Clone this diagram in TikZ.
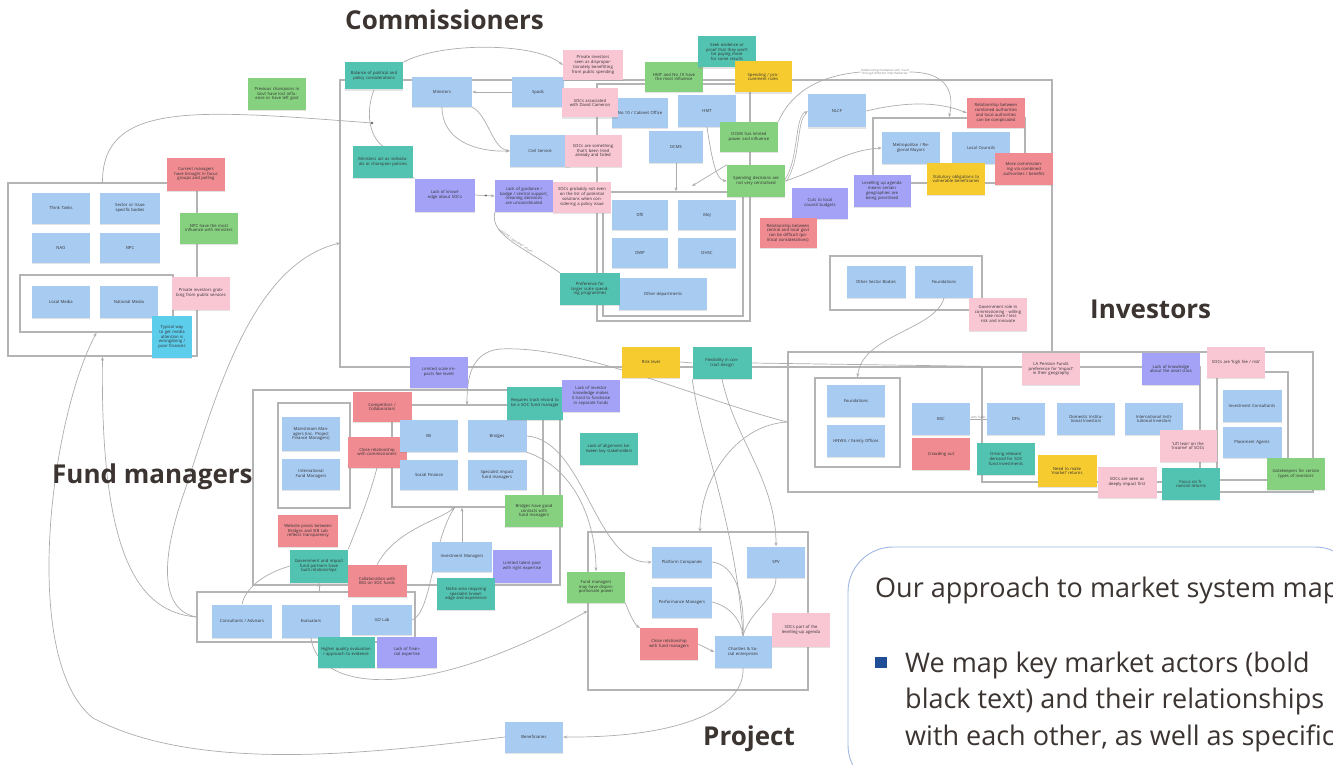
\documentclass[tikz,border=0pt]{standalone}
\usepackage{fontspec}
\setmainfont{Open Sans}
\usetikzlibrary{arrows.meta,fit,backgrounds,shadows}
\definecolor{nblue}{HTML}{A8CBF2}
\definecolor{nteal}{HTML}{52C3B1}
\definecolor{ngreen}{HTML}{86D17F}
\definecolor{npink}{HTML}{F9C6D4}
\definecolor{nred}{HTML}{EF8B91}
\definecolor{npurple}{HTML}{A3A2F6}
\definecolor{nyellow}{HTML}{F6CB2F}
\definecolor{ncyan}{HTML}{5CCDEB}
\definecolor{frameg}{HTML}{B4B4B4}
\definecolor{conng}{HTML}{ACACAC}
\definecolor{headc}{HTML}{3B3431}
\definecolor{panelc}{HTML}{9DB8E2}
\definecolor{bulletc}{HTML}{1F4E96}
\tikzset{
  note/.style={rectangle, minimum width=58pt, minimum height=31pt, inner sep=1.5pt,
    text width=50pt, align=center, font=\fontsize{4.2}{4.8}\selectfont, text=black!80,
    drop shadow={shadow xshift=0pt, shadow yshift=-1.2pt, opacity=0.22}},
  bn/.style={note, fill=nblue},
  tn/.style={note, fill=nteal},
  gn/.style={note, fill=ngreen},
  pn/.style={note, fill=npink},
  rn/.style={note, fill=nred},
  un/.style={note, fill=npurple},
  yn/.style={note, fill=nyellow},
  cn/.style={note, fill=ncyan},
  frm/.style={draw=frameg, line width=1.3pt, inner sep=0pt, rectangle},
  conn/.style={draw=conng, line width=0.7pt},
  arr/.style={conn, -{Stealth[length=4pt,width=3pt]}},
  ann/.style={font=\fontsize{3}{3.4}\selectfont, text=black!50, align=center, inner sep=0.5pt},
  head/.style={font=\fontsize{26}{30}\selectfont\bfseries, text=headc, anchor=base west, inner sep=0pt},
  ptext/.style={font=\fontsize{27}{30}\selectfont, text=headc, anchor=base west, inner sep=0pt},
  dotn/.style={circle, fill=black!60, inner sep=0.8pt},
}
\begin{document}
\begin{tikzpicture}[x=1pt,y=-1pt]
\useasboundingbox (0,0) rectangle (1333,765);

% ---------- left group ----------
\node[bn] (thinktanks) at (61,208) {Think Tanks};
\node[bn, minimum width=60pt] (sector) at (130,208) {Sector or Issue specific bodies};
\node[bn, minimum height=30pt] (nao) at (61,248) {NAO};
\node[bn, minimum width=60pt, minimum height=30pt] (npc) at (130,248) {NPC};
\node[bn, minimum height=32pt] (localmedia) at (61,302) {Local Media};
\node[bn, minimum height=32pt] (natmedia) at (129,302) {National Media};
\node[rn, minimum height=33pt] (curmgr) at (196,174) {Current managers have brought in focus groups and polling};
\node[gn] (npcinf) at (209,228) {NPC have the most influence with ministers};
\node[gn, minimum height=32pt] (prevchamp) at (277,94) {Previous champions in Govt have lost influence or have left govt};
\node[pn, minimum height=33pt] (privinv) at (201,293) {Private investors grabbing from public services};
\node[cn, minimum width=40pt, minimum height=42pt, text width=35pt] (typical) at (172,337) {Typical way to get media attention is wrongdoing / poor finances};

% ---------- commissioners ----------
\node[tn, minimum height=27pt] (balance) at (374,76) {Balance of political and policy considerations};
\node[bn, minimum width=60pt, minimum height=30pt] (ministers) at (442,92) {Ministers};
\node[bn, minimum width=52pt, minimum height=30pt, text width=46pt] (spads) at (538,92) {Spads};
\node[pn, minimum width=60pt, minimum height=30pt] (privseen) at (593,65) {Private investors seen as disproportionately benefitting from public spending};
\node[bn, minimum width=56pt, minimum height=30pt] (no10) at (640,113) {No 10 / Cabinet Office};
\node[pn, minimum width=56pt, minimum height=29pt] (soccam) at (590,103) {SOCs associated with David Cameron};
\node[gn, minimum height=30pt] (hmtno10) at (674,77) {HMT and No 10 have the most influence};
\node[tn] (seek) at (727,52) {Seek evidence or proof that they won't be paying more for same results};
\node[yn, minimum width=57pt] (spendrules) at (763,77) {Spending / procurement rules};
\node[bn, minimum height=32pt] (hmt) at (707,111) {HMT};
\node[bn, minimum width=60pt, minimum height=32pt] (civil) at (540,151) {Civil Service};
\node[pn, minimum width=57pt, minimum height=32pt] (socfail) at (593,151) {SOCs are something that's been tried already and failed};
\node[bn, minimum width=54pt] (dcms) at (676,147) {DCMS};
\node[gn, minimum height=30pt] (dcmslim) at (749,137) {DCMS has limited power and influence};
\node[tn, minimum width=60pt] (actind) at (383,162) {Ministers act as individuals or champion policies};
\node[un, minimum width=60pt, minimum height=33pt] (lackknow) at (445,195) {Lack of knowledge about SOCs};
\node[un, minimum height=32pt] (lackguid) at (524,196) {Lack of guidance / badge / central support, meaning decisions are uncoordinated};
\node[pn] (notlist) at (582,197) {SOCs probably not even on the list of potential solutions when considering a policy issue};
\node[bn, minimum width=56pt, minimum height=30pt] (dfe) at (640,215) {DfE};
\node[bn, minimum height=30pt] (moj) at (707,215) {MoJ};
\node[bn, minimum width=56pt, minimum height=30pt] (dwp) at (640,253) {DWP};
\node[bn, minimum height=30pt] (dhsc) at (707,253) {DHSC};
\node[bn, minimum width=88pt, minimum height=32pt, text width=80pt] (otherdep) at (663,294) {Other departments};
\node[tn, minimum width=60pt, minimum height=32pt] (preflarge) at (590,289) {Preference for larger scale spending programmes};
\node[gn, minimum height=32pt] (spenddec) at (756,181) {Spending decisions are not very centralised};
\node[bn, minimum height=33pt] (nlcf) at (837,111) {NLCF};
\node[bn, minimum height=31pt] (metro) at (911,148) {Metropolitan / Regional Mayors};
\node[bn] (localc) at (981,148) {Local Councils};
\node[rn, minimum height=30pt] (relca) at (996,113) {Relationship between combined authorities and local authorities can be complicated};
\node[rn, minimum height=32pt] (morecomm) at (1024,169) {More commissioning via combined authorities / benefits};
\node[yn, minimum height=32pt] (statutory) at (956,179) {Statutory obligations to vulnerable beneficiaries};
\node[un, minimum width=57pt, minimum height=32pt] (levelling) at (882,191) {Levelling up agenda means certain geographies are being prioritised};
\node[un, minimum width=56pt] (cuts) at (820,203) {Cuts to local council budgets};
\node[rn, minimum width=57pt, minimum height=30pt] (relcentral) at (788,233) {Relationship between central and local govt can be difficult (political considerations)};
\node[bn, minimum width=59pt, minimum height=32pt] (othersector) at (876,282) {Other Sector Bodies};
\node[bn, minimum height=32pt] (foundC) at (944,282) {Foundations};
\node[pn, minimum height=33pt] (govrole) at (998,314) {Government role in commissioning - willing to take more / less risk and innovate};
\node[ann] (annot) at (885,72) {Relationship mediated cash / lead\\through different intermediaries};

% ---------- investors ----------
\node[yn] (riskl) at (651,362) {Risk level};
\node[tn, minimum width=59pt, minimum height=32pt] (flex) at (722,363) {Flexibility in contract design};
\node[bn, minimum height=32pt] (foundI) at (856,401) {Foundations};
\node[bn, minimum height=32pt] (hnwi) at (856,441) {HNWIs / Family Offices};
\node[bn, minimum height=32pt] (bsc) at (941,419) {BSC};
\node[bn, minimum height=32pt] (dfis) at (1016,419) {DFIs};
\node[bn, minimum height=32pt] (domestic) at (1086,419) {Domestic Institutional Investors};
\node[bn, minimum height=32pt] (intl) at (1154,419) {International Institutional Investors};
\node[pn, minimum height=32pt] (lapension) at (1051,369) {LA Pension Funds preference for `impact' in their geography};
\node[un, minimum height=32pt] (lackasset) at (1171,369) {Lack of knowledge about the asset class};
\node[pn] (highfee) at (1236,362) {SOCs are `high fee / risk'};
\node[bn, minimum width=59pt, minimum height=32pt] (invcons) at (1252,406) {Investment Consultants};
\node[bn, minimum width=59pt] (placement) at (1252,442) {Placement Agents};
\node[pn, minimum width=57pt, minimum height=32pt] (lift) at (1188,446) {`Lift lean' on the `income' of SOCs};
\node[rn, minimum height=32pt] (crowding) at (941,454) {Crowding out};
\node[tn, minimum height=32pt] (driving) at (1006,459) {Driving relevant demand for SOC fund investments};
\node[yn, minimum width=59pt, minimum height=32pt] (needmarket) at (1067,471) {Need to make `market' returns};
\node[pn, minimum width=59pt] (deeply) at (1127,482) {SOCs are seen as deeply impact first};
\node[tn, minimum height=32pt] (focusfin) at (1191,484) {Focus on financial returns};
\node[gn, minimum height=32pt] (gatekeep) at (1296,474) {Gatekeepers for certain types of investors};

% ---------- fund managers ----------
\node[un] (limscale) at (439,372) {Limited scale impacts fee levels};
\node[rn, minimum width=59pt, minimum height=30pt] (compet) at (382,407) {Competitors / Collaborators};
\node[rn, minimum width=59pt] (closecomm) at (377,452) {Close relationship with commissioners};
\node[bn, minimum height=32pt] (bii) at (429,436) {BII};
\node[bn, minimum width=59pt, minimum height=32pt] (bridges) at (497,436) {Bridges};
\node[bn, minimum height=30pt] (socfin) at (429,475) {Social Finance};
\node[bn, minimum width=59pt, minimum height=30pt] (specialist) at (497,475) {Specialist impact fund managers};
\node[tn, minimum width=56pt, minimum height=33pt] (trackrec) at (535,403) {Requires track record to be a SOC fund manager};
\node[un, minimum height=32pt] (lackinv) at (591,396) {Lack of investor knowledge makes it hard to fundraise in separate funds};
\node[tn, minimum height=32pt] (lackalign) at (609,449) {Lack of alignment between key stakeholders};
\node[gn, minimum height=32pt] (bridgesgood) at (534,511) {Bridges have good contacts with fund managers};
\node[bn, minimum height=34pt] (mainstream) at (311,434) {Mainstream Managers (inc. Project Finance Managers)};
\node[bn] (intlfm) at (311,474) {International Fund Managers};
\node[rn, minimum width=60pt, minimum height=32pt] (website) at (308,531) {Website pivots between Bridges and SIB Lab reflects transparency};
\node[tn, minimum height=33pt] (govimpact) at (319,566) {Government and impact fund partners have built relationships};
\node[rn, minimum width=59pt, minimum height=32pt] (collab) at (377,581) {Collaboration with BIG on SOC funds};
\node[bn, minimum width=60pt, minimum height=30pt] (invmgr) at (462,557) {Investment Managers};
\node[un, minimum width=59pt, minimum height=33pt] (limtalent) at (522,566) {Limited talent pool with right expertise};
\node[tn, minimum height=32pt] (niche) at (466,594) {Niche area requiring specialist knowledge and experience};
\node[bn, minimum width=60pt, minimum height=30pt] (golab) at (382,620) {GO Lab};
\node[bn, minimum width=60pt, minimum height=33pt] (consult) at (242,621) {Consultants / Advisors};
\node[bn, minimum height=33pt] (evaluators) at (311,621) {Evaluators};
\node[tn, minimum width=57pt] (higherq) at (346,652) {Higher quality evaluation / approach to evidence};
\node[un, minimum width=60pt] (lackfin) at (407,652) {Lack of financial expertise};
\node[gn] (fmpower) at (596,587) {Fund managers may have disproportionate power};

% ---------- project ----------
\node[bn, minimum width=60pt] (platform) at (682,562) {Platform Companies};
\node[bn] (spv) at (776,562) {SPV};
\node[bn, minimum width=60pt] (perfmgr) at (682,602) {Performance Managers};
\node[rn, minimum height=32pt] (closefm) at (669,644) {Close relationship with fund managers};
\node[bn, minimum width=57pt, minimum height=32pt] (charities) at (743,652) {Charities \& Social enterprises};
\node[pn, minimum height=34pt] (socpart) at (801,630) {SOCs part of the levelling-up agenda};
\node[bn] (benef) at (534,737) {Beneficiaries};

% ---------- headings ----------
\node[head] (hcomm) at (345,30) {Commissioners};
\node[head] (hfund) at (52,483) {Fund managers};
\node[head] (hinv) at (1090,318) {Investors};
\node[head] (hproj) at (703,745) {Project};

% ---------- frames and connectors ----------
\begin{pgfonlayer}{background}
\node[frm, fit={(8,183) (197,356)}] (leftouter) {};
\node[frm, fit={(20,275) (173,332)}] (leftinner) {};
\node[frm, fit={(340,80) (1052,367)}] (commframe) {};
\node[frm, fit={(597,84) (750,321)}] (cgouter) {};
\node[frm, fit={(603,192) (743,316)}] (cginner) {};
\node[frm, fit={(873,118) (1025,183)}] (lgframe) {};
\node[frm, fit={(830,256) (982,310)}] (osframe) {};
\node[frm, fit={(788,352) (1313,492)}] (invframe) {};
\node[frm, fit={(815,378) (900,467)}] (fiframe) {};
\node[frm, fit={(982,367) (1200,482)}] (inv2frame) {};
\node[frm, fit={(1217,372) (1288,480)}] (inv3frame) {};
\node[frm, fit={(253,390) (560,585)}] (fmouter) {};
\node[frm, fit={(278,403) (350,508)}] (fmi1) {};
\node[frm, fit={(392,405) (543,507)}] (fmi2) {};
\node[frm, fit={(197,592) (415,642)}] (consultframe) {};
\node[frm, fit={(588,532) (808,690)}] (projframe) {};

\coordinate (dotA) at (372,123);
\coordinate (commattach) at (340,243);
\coordinate (c13e) at (692,186);
\coordinate (c23a) at (500,349);
\coordinate (fmi2top) at (467,405);
\coordinate (fmi2s) at (455,507);
\coordinate (projtop) at (700,532);

% left group
\draw[conn] (leftouter.north) .. controls (102,100) and (200,110) .. (dotA);
\fill[black!60] (dotA) circle (1.3pt);
\draw[arr] (benef.west) .. controls (380,752) and (200,775) .. (93,718)
  .. controls (20,660) and (50,420) .. (leftinner.south);
\draw[arr] (consultframe.west) .. controls (140,612) and (100,560) .. (leftouter.south);
\draw[arr] (consultframe.west) .. controls (160,610) and (160,560) .. (185,490)
  .. controls (215,400) and (250,265) .. (commattach);

% commissioners
\draw[arr] (balance.north east) .. controls (440,42) and (535,42) .. (privseen.west);
\draw[conn] (balance.south) .. controls (366,110) and (368,135) .. (actind.north);
\draw[arr] (spads.west) -- (ministers.east);
\draw[arr] (ministers.south) .. controls (442,140) and (475,152) .. (civil.west);
\draw[arr] (ministers.south east) .. controls (488,115) and (492,148) .. (civil.west);
\draw[conn] (actind.south east) -- (lackknow.north west);
\draw[arr] (lackknow.east) -- node[dotn, pos=0.55] (d9) {} (lackguid.west);
\draw[conn] (lackguid.south west) .. controls (490,235) and (520,245) ..
  node[ann, pos=0.55, sloped, above] (annlob) {Lobbying / spending / reform} (preflarge.north west);
\draw[arr] (dcms.south) -- (dcms.south |- cginner.north);
\draw[arr] (hmt.south) .. controls (712,160) and (716,180) .. (spenddec.west);
\draw[arr] (spenddec.north west) -- (c13e);
\draw[conn] (dcmslim.north east) .. controls (790,95) and (815,76) .. (annot.west);
\draw[arr] (annot.east) .. controls (945,72) and (955,90) .. (lgframe.north);
\draw[arr, double=white, double distance=1.2pt] (spenddec.east) .. controls (800,160) and (795,120) .. (nlcf.west);
\draw[arr] (spenddec.east) .. controls (820,170) and (845,150) .. (metro.west);
\draw[arr] (nlcf.east) .. controls (900,103) and (935,100) .. (relca.west);
\draw[arr] (foundC.south) .. controls (935,330) and (862,335) .. (fiframe.north);

% investors
\draw[conn] (bsc.east) -- node[ann, above] (lbl1) {with funds} (dfis.west);
\draw[conn] (riskl.east) -- (flex.west);
\draw[conn] (flex.east) -- (inv2frame.north west);
\draw[arr] (invframe.west) .. controls (700,400) and (580,345) .. (c23a)
  .. controls (470,352) and (467,380) .. (fmi2top);
\draw[arr] (invframe.west) .. controls (735,425) and (700,480) .. (projtop);
\draw[arr] (flex.south west) .. controls (700,440) and (735,520) .. (charities.north);
\draw[arr] (flex.south) .. controls (735,440) and (776,480) .. (spv.north);

% fund managers
\draw[arr] (bridges.east) .. controls (585,440) and (595,565) .. (platform.west);
\draw[arr] (bridges.south east) .. controls (580,470) and (596,530) .. (fmpower.north);
\draw[arr] (fmpower.south east) .. controls (630,615) and (635,625) .. (closefm.north west);
\draw[arr] (invmgr.north) -- (invmgr.north |- fmi2.south);
\draw[arr] (collab.north) .. controls (395,530) and (440,520) .. (fmi2s);
\draw[conn] (golab.east) .. controls (432,612) and (432,540) .. (fmi2s);
\draw[conn] (closecomm.south) .. controls (370,495) and (360,520) .. (govimpact.north east);
\draw[arr] (govimpact.south |- consultframe.north) -- (govimpact.south);
\draw[conn] (govimpact.west) .. controls (260,575) and (245,590) .. (consult.north);
\draw[arr] (evaluators.south) .. controls (318,695) and (430,700) .. (projframe.west);

% project
\draw[conn] (platform.east) .. controls (735,565) and (745,595) .. (charities.north);
\draw[conn] (perfmgr.east) .. controls (725,605) and (740,615) .. (charities.north);
\draw[conn] (spv.south) .. controls (776,600) and (750,610) .. (charities.north);
\draw[arr] (closefm.east) -- (charities.west);
\draw[arr] (charities.south) .. controls (745,705) and (690,738) .. (benef.east);
\end{pgfonlayer}

% ---------- text panel ----------
\draw[draw=panelc, line width=0.9pt, fill=white, rounded corners=45pt]
  (848,790) -- (848,547) -- (1360,547) -- (1360,790) -- cycle;
\node[ptext] (ptitle) at (875,597) {Our approach to market system mapping};
\node[fill=bulletc, minimum size=11.5pt, inner sep=0pt] (bul) at (881,662.5) {};
\node[ptext] (pl1) at (905,672) {We map key market actors (bold};
\node[ptext] (pl2) at (905,708.5) {black text) and their relationships};
\node[ptext] (pl3) at (905,745) {with each other, as well as specific};
\end{tikzpicture}
\end{document}
